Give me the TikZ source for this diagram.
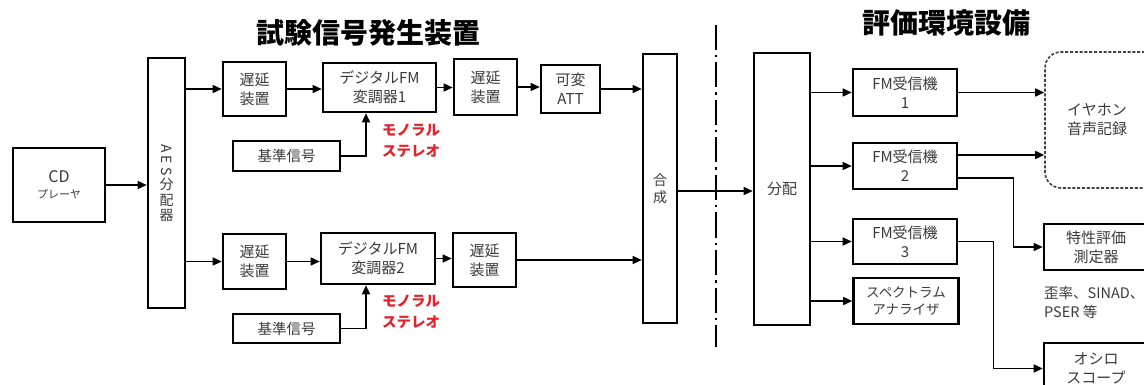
\documentclass[tikz,border=0pt]{standalone}
\usepackage{fontspec}
\setmainfont{Noto Sans CJK JP}
\usetikzlibrary{arrows.meta}
\definecolor{txt}{HTML}{3A3A3A}
\definecolor{redt}{HTML}{E3222B}
\tikzset{
  box/.style={draw=black, line width=2.6pt, fill=white, text=txt, align=center,
    font=\fontsize{15}{19}\selectfont, inner sep=0pt},
  dbox/.style={draw=black!75, line width=1.6pt, dash pattern=on 3pt off 1.8pt,
    rounded corners=16pt, text=txt, align=center, font=\fontsize{15}{19}\selectfont, inner sep=0pt},
  conn/.style={line width=1.5pt, -{Triangle[length=9pt,width=8pt]}},
  redlabel/.style={text=redt, align=center, font=\fontsize{14.5}{21}\selectfont\bfseries},
  title/.style={font=\fontsize{28}{30}\selectfont\bfseries, text=black},
  sepline/.style={line width=1.8pt, dash pattern=on 25pt off 5pt on 2.5pt off 5pt}
}
\begin{document}
\begin{tikzpicture}[x=1pt,y=-1pt]
\useasboundingbox (0,0) rectangle (1144,385);

% titles
\node[title] (t1) at (368,33) {試験信号発生装置};
\node[title] (t2) at (946,23) {評価環境設備};

% left section
\node[box, minimum width=92, minimum height=74] (cd) at (59,185)
  {{\fontsize{16}{18}\selectfont CD}\\[-3pt]{\fontsize{11}{12}\selectfont プレーヤ}};
\node[box, minimum width=37, minimum height=250] (aes) at (166.5,183)
  {\fontsize{14}{15}\selectfont\shortstack{\rotatebox{-90}{A}\\\rotatebox{-90}{E}\\\rotatebox{-90}{S}\\分\\配\\器}};

\node[box, minimum width=63, minimum height=54] (d1) at (254.5,89) {遅延\\装置};
\node[box, minimum width=113, minimum height=49] (mod1) at (379.5,87.5) {デジタルFM\\変調器1};
\node[box, minimum width=107, minimum height=30, font=\fontsize{14.5}{17}\selectfont] (k1) at (286.5,156) {基準信号};
\node[box, minimum width=63, minimum height=56] (d2) at (485.5,87) {遅延\\装置};
\node[box, minimum width=59, minimum height=48] (att) at (570.5,89) {可変\\ATT};

\node[box, minimum width=63, minimum height=55] (d3) at (254.5,261.5) {遅延\\装置};
\node[box, minimum width=114, minimum height=51] (mod2) at (378,258.5) {デジタルFM\\変調器2};
\node[box, minimum width=107, minimum height=29, font=\fontsize{14.5}{17}\selectfont] (k2) at (286.5,328.5) {基準信号};
\node[box, minimum width=63, minimum height=54] (d4) at (484.5,260) {遅延\\装置};

\node[redlabel] (r1) at (411,140.5) {モノラル\\ステレオ};
\node[redlabel] (r2) at (411,312) {モノラル\\ステレオ};

\node[box, minimum width=34, minimum height=269, font=\fontsize{14}{17}\selectfont] (gousei) at (660,188.5) {合\\成};

% separator
\draw[sepline] (716,25) -- (716,347);

% right section
\node[box, minimum width=56, minimum height=272] (bunpai) at (782,189) {分配};
\node[box, minimum width=104, minimum height=47] (fm1) at (905,92.5) {FM受信機\\1};
\node[box, minimum width=104, minimum height=46] (fm2) at (905,166) {FM受信機\\2};
\node[box, minimum width=104, minimum height=45] (fm3) at (905,241.5) {FM受信機\\3};
\node[box, minimum width=105, minimum height=46, font=\fontsize{13.5}{17}\selectfont] (spec) at (906,301) {スペクトラム\\アナライザ};

\node[dbox, minimum width=140, minimum height=136] (ear) at (1115,120)
  {イヤホン\rule{36pt}{0pt}\\音声記録\rule{36pt}{0pt}};
\node[box, minimum width=104, minimum height=46] (tok) at (1096,247) {特性評価\\測定器};
\node[box, minimum width=104, minimum height=51] (osc) at (1096,368.5) {オシロ\\スコープ};
\node[anchor=west, align=left, text=txt, font=\fontsize{14.5}{19}\selectfont, inner sep=0pt] (note) at (1044,302.5) {歪率、SINAD、\\PSER 等};

% connectors
\draw[conn] (cd.east) -- (cd.east -| aes.west);
\draw[conn] (aes.east |- d1) -- (d1.west);
\draw[conn] (aes.east |- d3) -- (d3.west);
\draw[conn] (d1.east) -- (d1.east -| mod1.west);
\draw[conn] (mod1.east) -- (mod1.east -| d2.west);
\draw[conn] (d2.east) -- (d2.east -| att.west);
\draw[conn] (att.east) -- (att.east -| gousei.west);
\draw[conn] (k1.east) -| ([xshift=-13.5pt]mod1.south);
\draw[conn] (d3.east) -- (d3.east -| mod2.west);
\draw[conn] (mod2.east) -- (mod2.east -| d4.west);
\draw[conn] (d4.east) -- (d4.east -| gousei.west);
\draw[conn] (k2.east) -| ([xshift=-12pt]mod2.south);
\draw[conn] ([yshift=-2.5pt]gousei.east) -- ([yshift=-2.5pt]gousei.east -| bunpai.west);

\draw[conn] (bunpai.east |- fm1) -- (fm1.west);
\draw[conn] (bunpai.east |- fm2) -- (fm2.west);
\draw[conn] (bunpai.east |- fm3) -- (fm3.west);
\draw[conn] (bunpai.east |- spec) -- (spec.west);
\draw[conn] (fm1.east) -- (fm1.east -| ear.west);
\draw[conn] ([yshift=11pt]fm2.east) -- ([yshift=11pt]fm2.east -| ear.west);
\draw[conn] ([yshift=-12pt]fm2.east) -- ++(55,0) |- (tok.west);
\draw[conn] (fm3.east) -- ++(35,0) |- (osc.west);
\end{tikzpicture}
\end{document}
